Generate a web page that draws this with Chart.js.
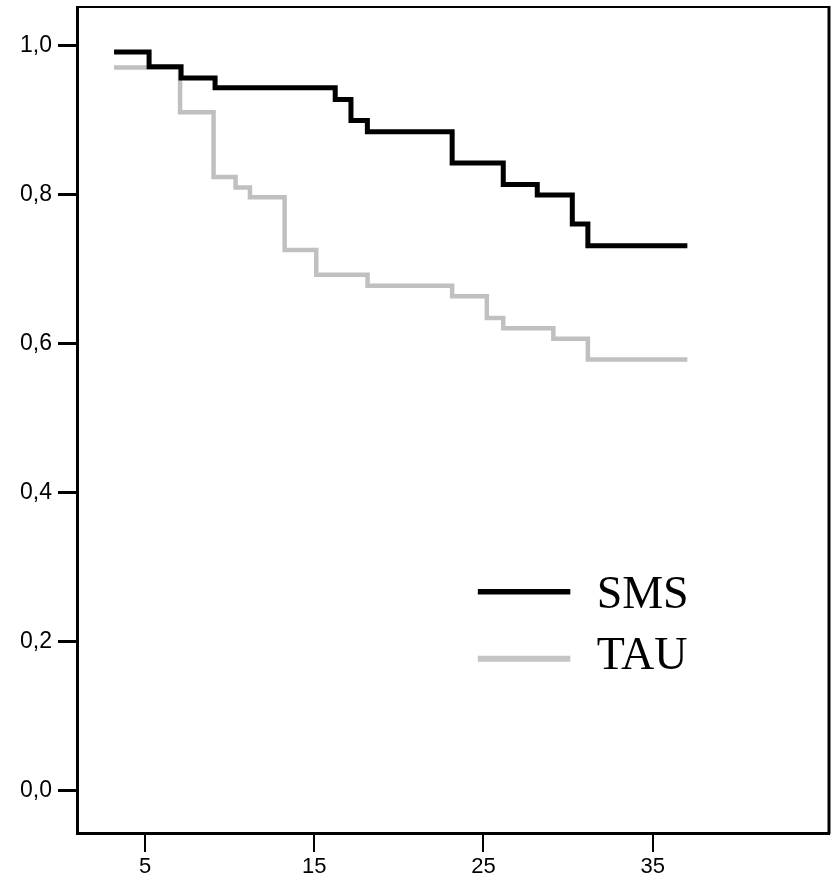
<!DOCTYPE html>
<html>
<head>
<meta charset="utf-8">
<script src="https://cdn.jsdelivr.net/npm/chart.js@4/dist/chart.umd.min.js"></script>
<style>
  html, body { margin: 0; padding: 0; background: #ffffff; }
  #wrap { width: 831px; height: 882px; position: relative; }
</style>
</head>
<body>
<div id="wrap"><canvas id="c" width="831" height="882"></canvas></div>
<script>
// ---- data (Kaplan-Meier step curves) ----
const smsTimes    = [3.17, 5.24, 7.13, 9.14, 16.24, 17.17, 18.14, 23.15, 26.17, 28.18, 30.25, 31.17, 37.05];
const smsSurvival = [0.992, 0.972, 0.957, 0.944, 0.928, 0.900, 0.885, 0.843, 0.814, 0.800, 0.761, 0.732, 0.732];
const tauTimes    = [3.17, 7.07, 9.05, 10.35, 11.2, 13.25, 15.12, 18.15, 23.15, 25.2, 26.17, 29.13, 31.17, 37.05];
const tauSurvival = [0.971, 0.911, 0.824, 0.810, 0.797, 0.726, 0.693, 0.678, 0.664, 0.635, 0.621, 0.607, 0.579, 0.579];
const seriesNames = ['SMS', 'TAU'];
const xTickValues = [5, 15, 25, 35];
const yTickValues = [0.0, 0.2, 0.4, 0.6, 0.8, 1.0];

const toPoints = (xs, ys) => xs.map((x, i) => ({ x: x, y: ys[i] }));

const frame = {
  id: 'frame',
  afterDraw(chart) {
    const { ctx, chartArea: a } = chart;
    ctx.save();
    ctx.strokeStyle = '#000';
    ctx.lineWidth = 2;
    ctx.beginPath();
    ctx.moveTo(a.left, a.top);
    ctx.lineTo(a.right, a.top);
    ctx.stroke();
    ctx.lineWidth = 3;
    ctx.beginPath();
    ctx.moveTo(a.right, a.top - 1);
    ctx.lineTo(a.right, a.bottom + 1);
    ctx.stroke();
    ctx.restore();
  }
};

const legendPlugin = {
  id: 'customLegend',
  afterDraw(chart) {
    const { ctx, chartArea: a } = chart;
    const w = a.right - a.left, h = a.bottom - a.top;
    const x0 = a.left + w * 0.533, x1 = a.left + w * 0.656, tx = a.left + w * 0.691;
    const rows = [
      { y: a.top + h * 0.708, base: a.top + h * 0.727, color: '#000000', lw: 5.5, name: seriesNames[0] },
      { y: a.top + h * 0.789, base: a.top + h * 0.802, color: '#c4c4c4', lw: 6, name: seriesNames[1] }
    ];
    ctx.save();
    rows.forEach(r => {
      ctx.strokeStyle = r.color;
      ctx.lineWidth = r.lw;
      ctx.beginPath();
      ctx.moveTo(x0, r.y);
      ctx.lineTo(x1, r.y);
      ctx.stroke();
      ctx.fillStyle = '#000';
      ctx.font = '46px "Liberation Serif", "Times New Roman", serif';
      ctx.textBaseline = 'alphabetic';
      ctx.textAlign = 'left';
      ctx.fillText(r.name, tx, r.base);
    });
    ctx.restore();
  }
};

new Chart(document.getElementById('c'), {
  type: 'line',
  data: {
    datasets: [
      {
        label: seriesNames[0],
        data: toPoints(smsTimes, smsSurvival),
        borderColor: '#000000',
        borderWidth: 5,
        stepped: 'before',
        pointRadius: 0,
        fill: false,
        borderJoinStyle: 'miter',
        borderCapStyle: 'butt'
      },
      {
        label: seriesNames[1],
        data: toPoints(tauTimes, tauSurvival),
        borderColor: '#c0c0c0',
        borderWidth: 4.5,
        stepped: 'before',
        pointRadius: 0,
        fill: false,
        borderJoinStyle: 'miter',
        borderCapStyle: 'butt'
      }
    ]
  },
  options: {
    responsive: false,
    animation: false,
    layout: { padding: { top: 7, right: 2, left: 0, bottom: 0 } },
    plugins: { legend: { display: false }, tooltip: { enabled: false } },
    scales: {
      x: {
        type: 'linear',
        min: 0.98,
        max: 45.42,
        afterBuildTicks: s => { s.ticks = xTickValues.map(v => ({ value: v })); },
        afterFit: s => { s.height = 49; s.paddingLeft = 0; s.paddingRight = 0; },
        grid: { drawOnChartArea: false, drawTicks: true, tickLength: 19, color: '#000', lineWidth: 2 },
        border: { display: true, color: '#000', width: 3 },
        ticks: {
          color: '#000',
          font: { family: '"Liberation Sans", Arial, sans-serif', size: 22 },
          padding: 2,
          maxRotation: 0,
          callback: v => String(v)
        }
      },
      y: {
        type: 'linear',
        min: -0.0564,
        max: 1.0523,
        afterBuildTicks: s => { s.ticks = yTickValues.map(v => ({ value: v })); },
        afterFit: s => { s.width = 77; s.paddingTop = 0; s.paddingBottom = 0; },
        grid: { drawOnChartArea: false, drawTicks: true, tickLength: 19, color: '#000', lineWidth: 3 },
        border: { display: true, color: '#000', width: 3 },
        ticks: {
          color: '#000',
          font: { family: '"Liberation Sans", Arial, sans-serif', size: 23 },
          padding: 6,
          callback: v => Number(v).toFixed(1).replace('.', ',')
        }
      }
    }
  },
  plugins: [frame, legendPlugin]
});
</script>
</body>
</html>
